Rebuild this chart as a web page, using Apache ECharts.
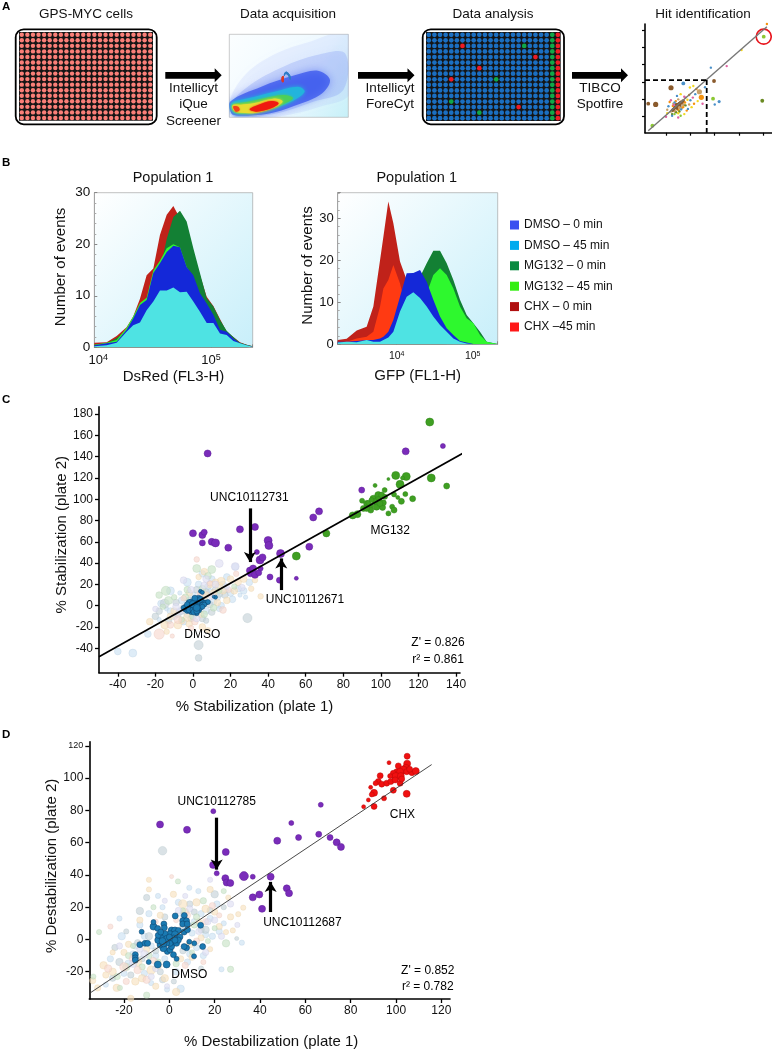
<!DOCTYPE html>
<html><head><meta charset="utf-8">
<script src="https://cdn.jsdelivr.net/npm/echarts@6/dist/echarts.min.js"></script>
<style>html,body{margin:0;padding:0;background:#fff}#c{width:772px;height:1050px}</style></head>
<body><div id="c"></div>
<script>
const plateRows=['A','B','C','D','E','F','G','H','I','J','K','L','M','N','O','P'];
const plateCols=['1','2','3','4','5','6','7','8','9','10','11','12','13','14','15','16','17','18','19','20','21','22','23','24'];
const hitsRed=[['7','C'],['20','E'],['10','G'],['5','I'],['17','N']];
const hitsGreen=[['18','C'],['13','I'],['5','M'],['10','O']];
// density contours of the acquisition plot
const densHaze=[[690,300],[740,220],[830,160],[930,125],[1045,100],[1050,280],[960,320],[830,350],[700,352]];
const densHaze2=[[692,315],[750,255],[850,200],[950,165],[1035,160],[1030,270],[940,305],[820,342],[705,350]];
const densBlue=[[692,304],[784,260],[884,226],[954,212],[990,240],[964,282],[884,317],[804,341],[714,347],[694,340]];
const densCyan=[[694,310],[744,295],[824,275],[894,260],[914,275],[874,305],[804,330],[724,342],[698,336]];
const densGreen=[[697,315],[744,305],[814,290],[854,285],[879,295],[844,315],[794,332],[724,340],[702,334]];
const densYellow=[[698,316],[722,314],[760,310],[820,296],[848,304],[826,322],[770,338],[722,338],[702,332]];
const densRed=[[749,328],[774,315],[814,303],[836,310],[814,325],[769,335]];
const densSpot=[[700,320],[714,320],[719,330],[708,335]];
const densArcBlue=[[852,222],[860,215],[870,225],[873,238],[869,238],[865,228],[858,222],[853,228]];
const densArcRed=[[845,232],[851,228],[851,246],[846,246]];
// hit identification mini plot
const miniTicksX=[1,2,3,4,5], miniTicksY=[1,2,3,4,5,6];
const miniDiag=[[0.27,0.19],[5.14,6.19]];
const miniDashH=[[0.137,3.115],[2.67,3.115]];
const miniDashV=[[2.67,3.115],[2.67,0.075]];
const miniBrown=[[1.205,2.67,3],[0.575,1.71,3],[0.27,1.75,2],[2.97,3.06,2],[1.5,1.7,2],[1.4,1.5,1.5],[1.6,1.85,1.5],[1.3,1.4,2],[1.7,1.9,2],[1.45,1.6,2],[1.55,1.75,2],[1.35,1.55,1.5],[1.42,1.72,1.5],[1.58,1.62,1.5],[1.48,1.45,1.5],[1.65,1.78,1.5],[1.25,1.35,1.5]];
const miniTan=[[2.37,2.44,3],[1.3,1.75,1],[1.8,2.1,1],[1.2,1.3,1],[1.65,1.5,1],[1.95,1.7,1],[1.05,1.4,1],[1.5,2.0,1],[1.38,1.3,1.5],[1.72,1.68,1.5],[1.55,1.52,1.5]];
const miniOrange=[[2.45,2.12,3],[1.4,1.9,1],[1.7,1.55,1],[1.95,2.25,1],[2.15,1.75,1],[1.15,1.85,1],[1.85,1.35,1],[5.14,6.35,1],[2.25,2.6,1],[1.52,1.38,1],[1.78,1.82,1],[1.28,1.62,1]];
const miniLime=[[5.01,5.62,2],[0.44,0.48,2],[2.93,2.04,2],[1.35,1.15,1],[1.6,1.05,1]];
const miniOlive=[[4.95,1.92,2],[1.25,1.15,1],[1.55,1.3,1],[1.8,1.65,1],[1.42,1.25,1]];
const miniBlue=[[1.71,2.92,2],[3.18,1.87,1.5],[2.84,3.83,1],[1.1,1.6,1],[1.45,2.2,1],[1.9,1.45,1],[2.0,1.95,1],[2.6,2.7,1],[3.0,1.7,1],[2.2,2.3,1],[1.25,1.05,1],[1.62,1.42,1],[1.35,1.82,1]];
const miniYellow=[[1.98,2.68,1],[2.12,2.77,1],[4.1,4.85,1],[1.6,2.3,1],[2.05,1.55,1],[1.75,1.15,1],[2.3,1.9,1],[1.05,1.2,1],[1.5,1.2,1],[1.88,1.98,1]];
const miniPink=[[3.49,3.92,1],[1.2,1.95,1],[1.75,2.15,1],[2.1,2.1,1],[1.5,0.95,1],[2.5,1.75,1],[1.0,1.0,1],[1.32,1.68,1]];
const miniRing=[[5.01,5.62]];
// flow histograms: DsRed
const dsRedFL=[9217,11860,14550,17830,20400,23440,26850,30780,35240,40460,46340,53090,60810,69690,79800,91600,105000,120200,137700,157800,180700,207300,234400];
const dsChx0=[0.9,1.0,2.2,3.9,6,9.4,14,15.3,21.8,25.7,27.4,25,22,18.5,14,9.8,8,5.5,3,2,1,0.5,0.2];
const dsMg0=[0.5,0.8,1.8,3.4,5,7.6,9.6,11,15,21,25.3,26.5,24.4,19.2,14.4,9.5,7.9,5.3,3.2,2,0.9,0.5,0.2];
const dsMg45=[0.5,0.9,1.4,3.8,6,8.6,9.6,14.9,16.8,19.2,20,19.4,15.6,13.5,10,8,6,3,2.5,1.5,0.7,0.3,0.1];
const dsChx45=[0.3,0.6,1,3,5,7.8,8.8,14,16,18,19,18.8,15,13,10,8,6,3,2.5,1.4,0.6,0.3,0.1];
const dsDmso0=[0.4,0.8,1.1,3.4,5.6,8.2,9.2,14.4,16.3,18.5,19.7,19.4,15.6,14,10.5,8.5,6.3,3.4,3,1.7,0.8,0.4,0.1];
const dsDmso45=[0.2,0.4,0.9,3,4.3,4.8,7.2,8.9,11,11,11.6,10.7,10.8,8.9,6.9,4.7,4.7,2.7,2.4,1.2,0.8,0.4,0.1];
// flow histograms: GFP
const gfpFL=[1675,2198,2978,4027,4932,6039,6683,7762,9040,11060,13540,16560,20270,24830,30340,37150,45500,55700,68080,83370,102100,124800,152800,213300];
const gfChx0=[1,1.3,3.3,4.2,9,20,25.6,34,28.8,19.7,15.3,7,2,1,0.5,0.3,0.1,0,0,0,0,0,0,0];
const gfChx45=[0.4,0.6,1.4,1.8,3,9,13.3,15.3,18.9,14.5,8.2,2.6,1,0.5,0.2,0.1,0,0,0,0,0,0,0,0];
const gfMg0=[0.1,0.2,0.3,0.4,0.5,0.8,1,1.5,2,4,7,11,16,19.3,22.3,22.3,19.3,15.3,10.6,7,5,3,0.6,0.1];
const gfMg45=[0.1,0.1,0.2,0.3,0.4,0.6,0.8,1,1.5,3,5,8,11,12.1,16.5,18.1,16.5,13.3,9,6.2,5,2.2,0.6,0.1];
const gfDmso0=[0.6,0.6,0.8,1,1,1.4,1.8,3,5.8,11.3,16.9,17,17.7,14.9,10.6,6.6,3.8,2.2,0.8,0.4,0.1,0,0,0];
const gfDmso45=[0.4,0.6,0.5,1,0.6,0.6,1,1.6,3,7.8,11.3,12.4,11,9,6.6,4.6,3,1.4,0.6,0.2,0,0,0,0];
const legendNames=['DMSO – 0 min','DMSO – 45 min','MG132 – 0 min','MG132 – 45 min','CHX – 0 min','CHX –45 min'];
// panel C
const cTicksX=[-40,-20,0,20,40,60,80,100,120,140];
const cTicksY=[-40,-20,0,20,40,60,80,100,120,140,160,180];
const cFit=[[-50,-47.9],[144.2,143.7]];
const cPurple=[[7.8,143,2.5],[0,68,2.5],[5,66.4,2.5],[6,69,2],[5,59,2],[10,60,2.5],[12,59,3],[18.8,54.5,2.5],[25,71.7,2.5],[33,74,2.5],[34,50.4,1.5],[40,61.3,3],[40.4,56.6,3],[35.7,43,3],[37,45.4,2.5],[30.3,33,2.5],[32,35,2.5],[30.6,30,2],[33,29,2.5],[35,31,2],[36,35,1.5],[41,27,2],[46,24,2],[46.6,49,3],[55,25.7,1],[61.9,55.4,2.5],[64,82.9,2.5],[67.1,88.6,2.5],[89.8,108.6,2],[113.2,145,2.5],[133,150,1.5]];
const cGreen=[[126,172.5,3],[126.8,120,3],[135,112.4,2],[107.9,122.4,3],[110.2,114,3],[113.5,121.4,3],[111.5,120,1],[104,119,0.5],[96.9,113,1],[102,108.6,1.5],[107,104.5,1.5],[109,101.7,1],[113,104.8,1.5],[110.9,98,2],[116.9,100.5,2],[90,98.6,1.5],[92.4,96.1,2],[94.2,93.6,2],[90.7,91.4,2],[96,100.5,2.5],[98.6,103.9,2.5],[100.4,103.9,2],[102.2,102.3,1.5],[97.7,93,2.5],[100.9,92.3,2],[101.3,96.7,2],[98.6,99.2,2.5],[96.9,97.7,2],[94.6,89.8,2],[92.4,91.4,2],[104,86.7,1.5],[106,93,1.5],[107,89.8,2],[87.5,86,2.5],[85,84.8,2.5],[71,67.9,2.5],[55,46.6,3],[93.3,96.7,1.5],[99.5,96,2],[95,99.2,1.5]];
const cDmso=[[-4,-3,2],[-3,-1,2],[-2,-3,2],[-1,-1,2],[-2,1,2],[0,0,2.5],[1,1,2],[0,-2,2],[1,-3,2],[2,0,2.5],[3,2,2],[2,3,2],[4,1,2],[3,-1,2],[1,3,2],[0,3,2],[-1,2,2],[4,4,2],[5,3,2],[3,5,2],[2,5,1.5],[6,3,1.5],[5,1,1.5],[7,3,1.5],[8,3.5,1.5],[-3,-5,1.5],[-1,-6,1.5],[1,-5,2],[2,-7,1.5],[3,-4,2],[4,-2,1.5],[-4,-1,1.5],[-2,-4,2],[0,-4,2],[1,-1,2],[2,2,2],[3,4,1.5],[4,13.5,1],[5,12.5,1],[12,8,1],[11,8.5,0.5],[-5,-2,1.5],[6,1,1.5],[1,5,1.5],[-1,4,1.5],[0.5,-6,2],[2,-5,2],[3,7,2],[1,7,2],[-2,3,2],[4,6,2],[-3,1,2],[5,-1,1.5],[0,1.5,2.5],[2,-2,2.5]];
const cPaleBlue=[[-40,-43,2],[-32,-44.5,2.5],[-24,-26.6,2],[-12,14,2.5],[-17,2,2],[22.5,36.6,2],[-3,22,2.5],[5,30,2],[10,25,2],[16,20,2],[27,14,2],[-10,-10,2],[-5,-15,2],[13,8,2],[20,12,2],[25,10,1],[0,10,2],[7,-5,2],[-14,-3,1],[-3,-8,2],[15,0,2],[30,22,2],[8,18,2],[-7,12,1],[3,20,2],[18,27,2],[-18,-13,1],[14,-3,1.5],[28,8,1],[-6,5,2],[11,4,2],[21,6,2],[24,16,2],[-12,-5,2],[9,13,2],[17,15,2]];
const cPaleGrey=[[3,-37,3],[3,-49,2],[29,-11.6,3],[-20,-10,2],[-15,2,3],[-18,-5,2],[-8,-8,2],[5,-12,2],[10,-6,2],[2,15,2],[12,15,2],[-2,5,2],[6,6,2],[17,10,2],[9,1,2],[-5,-2,2],[-13,-14,2],[7,-14,1.5],[-9,3,2],[-1,-12,2],[4,9,2],[7,13,2],[14,11,2],[-6,-5,2]];
const cPalePeach=[[-14,-24.4,1.5],[36,8.8,1.5],[-23,-15,2],[-15,-18,2.5],[-8,-18,2.5],[-2,-17,2],[5,-20,2],[8,-23,1.5],[14,18,2.5],[15,23,2.5],[20,25,2],[24,22,2],[7,10,2],[11,12,2],[3,27,1.5],[6,32,2],[-2,12,2],[13,3,2],[18,5,2],[27,25,2],[31,16,1.5],[-3,-11,2.5],[-10,-5,2],[4,-8,2],[33,24,1.5],[9,20,2],[16,14,2],[22,14,2],[-6,-14,2],[12,22,2],[-12,-10,2]];
const cPaleGreen=[[2,35,2.5],[-14.4,14,3],[-18,10,2],[-13,5,2.5],[-10,8,1.5],[-3,15,2],[10,34,2.5],[-16,-1,1.5],[8,28,2],[6,-8,2],[11,-2,2],[-6,-13,1.5],[14,14,1.5],[22,18,1.5],[0,-10,2],[-4,8,2],[5,16,2]];
const cPalePink=[[2,43.5,1.5],[-18,-26.6,3.5],[-11,-28.5,1],[16,-4,2],[-12,-18,2],[4,12,2],[-5,7,1.5],[23,30,1.5],[-1,-21,1.5],[9,21,1.5],[19,15,1.5],[-8,-13,2.5],[1,-15,2]];
const cPaleLav=[[14,39.7,2.5],[22.5,36.8,2.5],[-5,24,2],[7,25,2],[-1,15,2],[12,20,2],[-7,-5,2],[2,-12,2],[18,18,1.5],[26,17,2],[-20,-3,1.5],[-9,-1,2],[10,9,2],[6,19,2]];
const cArrow1=[[30.3,91.4],[30.3,41]];
const cArrow2=[[47,14.7],[47,44.4]];
const cNotes=[['UNC10112731',30,101],['DMSO',5,-27.5],['MG132',105,70],['UNC10112671',59.6,5.3],["Z' = 0.826",130.4,-34.7],['r² = 0.861',130.4,-51]];
// panel D
const dTicksX=[-20,0,20,40,60,80,100,120];
const dTicksY=[-20,0,20,40,60,80,100,120];
const dFit=[[-35.3,-33.5],[115.7,108.4]];
const dPurple=[[-4.1,71.3,2.5],[7.8,68,2.5],[19.4,79.5,1.5],[24.9,54.2,2.5],[19.3,46.2,2.5],[20.9,41,1.5],[24.7,38,2.5],[25.3,35.3,2.5],[26.9,35,2.5],[32.9,39.3,3.5],[36.8,38.9,1.5],[44.7,38.9,2.5],[36.8,26.1,2.5],[39.7,27.9,2.5],[40.9,19,2.5],[51.8,31.7,2.5],[52.8,28.7,2.5],[47.6,61.2,2.5],[53.8,72.2,1.5],[57,63.2,2],[66.8,83.5,1.5],[65.9,65.2,2],[70.9,63.2,2],[73.8,60.2,2.5],[75.7,57.4,2.5]];
const dRed=[[104.9,113.6,2],[96.9,109.6,1],[104.9,109,2.5],[101,107.6,2],[104.3,106.4,2.5],[103.2,105,3],[100.3,104,2],[101.8,104,2.5],[98.8,103,2],[99.9,101,3],[102.1,101.3,2.5],[104.7,104,2],[107,103.4,2],[108.7,104.4,2.5],[97.4,101.3,1.5],[93,101.5,2],[92.2,97.9,2],[93.7,96.3,2],[95.9,96.9,2],[97.7,97.9,2],[99.6,98.9,2],[101.8,96.9,2],[88.8,94.3,1],[91,96.9,1.5],[90.3,90.9,2.5],[89.3,89.9,1.5],[98.8,92.5,2],[104.7,90.3,2.5],[94.7,87.5,1.5],[87.8,86.5,1],[85.7,82.3,1],[90.3,82.5,2],[106,105.5,2],[102.5,99.5,2]];
const dDmso=[[-7,8,2.5],[-7,10.8,1.5],[-2.4,9.6,2],[-2.2,7.2,2],[-5.1,6.8,2],[2.6,14.6,2],[6.6,14.9,2],[5.9,11.6,2],[7.6,11.6,2],[5.9,9.6,2],[7.9,9.6,2],[13.8,8.8,2],[1,5.6,2.5],[2.5,5.6,2.5],[4,5.6,2],[0.3,3.6,2],[2.5,3.2,2.5],[4.7,1.6,2],[6.5,4.6,2],[8,6,2],[-12.2,4.8,1.5],[-13,-3.2,2],[-10.7,-2.4,2],[-9.6,-2.4,2],[-15,-9.4,2],[-15,-11.4,2],[-15,-12.8,2],[-9.1,-14,1.5],[-5.1,-15.5,2.5],[-1.2,-15.5,2.5],[3.2,-12,1.5],[1.8,-9.4,2],[7.6,-5.2,2],[8.8,-1.4,1.5],[11,-2.4,1.5],[14.7,-4.4,2],[10.9,-10.4,1.5],[6.5,-4.4,2],[-0.9,-7.4,2],[0.3,-6.4,2],[-2.6,-5.4,2.5],[-4.1,-3.4,2],[-4.9,-0.4,2.5],[-3.4,1.6,2],[-1.9,3.6,2],[1.2,-2.4,2.5],[1,-4.4,2],[3.2,-2.4,2],[4,-0.4,2],[1.8,0.6,2.5],[0.3,-2.4,2],[-1.2,-2.4,2],[-2.6,-2.4,2.5],[-4.9,2.6,2],[-3.8,4.6,2],[-1,0.5,2.5],[2.5,-0.5,2],[-3,-1,2.5],[0,1.5,2]];
const dPaleBlue=[[-22,13,1.5],[12.8,30,1.5],[8.8,32,1.5],[-5,27,1.5],[23,-18.5,1.5],[32,-2,1.5],[-1,-31,1.5],[5,-30.5,2.5],[-21,2,2.5],[-15,-4,2],[-18,-15,2.5],[-11,-21,2],[-6,-10,2],[3,-20,2],[8,-14,2],[15,-10,2],[19,2,2],[24,10,1.5],[10,4,2],[14,16,2],[-9,16,2],[-3,20,1.5],[4,23,2],[-26,-12,2],[-28,-28,1.5],[21,22,2],[-13,9,2],[18,13,2],[12,-5,2],[-8,-27,1.5],[-16,-9,2],[-8,-4,2],[-11,2,2],[6,15,2],[16,3,2],[11,11,2],[-20,-21,2],[-2,-12,2],[22,5,2],[9,-9,2]];
const dPaleGrey=[[-3,55,3],[-13,17.7,2.5],[29.7,0.6,1],[-10,26,2],[-9,2,2.5],[-2,14,2],[6,8,2],[16,6,2.5],[-24,-5,2],[-17,-22,2],[6,-7,2],[-4,-20,2],[20,28,2.5],[11,17,2],[-12,-12,2],[24,20,1.5],[2,-26,1.5],[14,-18,1.5],[-19,5,1.5],[9,22,2],[-22,-14,2.5],[-6,-7,2],[14,6,2],[-14,-2,2],[18,18,2],[-25,-24,2],[-3,-25,2]];
const dPalePeach=[[-9,37,1.5],[18,31,2],[-9,31,1.5],[1.8,28,2],[6,22,3],[25,4.6,1.5],[28,5.6,1.5],[32.6,19.7,1.5],[30.4,15.7,1.5],[-33.8,-25.5,2],[-31.6,-30,2],[-23.2,-30,2.5],[-17,-36.5,2],[3,-32.5,2.5],[-29,-16,2.5],[-25,-20,2.5],[-20,-8,2],[-15,-26,2.5],[-8,-19,3],[-2,-24,2.5],[-13,12,2],[-4,15,2],[12,23,2.5],[16,19,2.5],[20,17,2],[22,8,2],[13,11,2],[9,-3,2.5],[5,-12,2],[18,-6,1.5],[27,14,2],[-25,-8,1.5],[-10,-6,2],[26,26,1.5],[-18,-3,2],[-12,-24,2.5],[-6,-29,2],[7,17,2.5],[14,1,2],[10,-11,2],[-28,-22,2],[-14,-14,3],[-5,-16,2.5]];
const dPaleGreen=[[3.8,36,1.5],[27,-18.5,2],[-31,4.6,1.5],[25,-2.4,2.5],[-33.5,-23,1.5],[-21.8,-30,1.5],[-10,-34.5,2],[-18,-10,2],[-12,-17,2],[-5,-14,2],[11,9,2],[15,24,2],[20,7,1.5],[6,18,1.5],[-7,20,1.5],[-23,-23,2],[10,-8,1.5],[24,30,1.5],[-16,-4,1.5],[17,-1,1.5],[-19,-17,2.5],[-9,-10,2],[3,-15,2],[12,14,2]];
const dPalePink=[[1,39,1],[-26,8,1.5],[-19,-26,2],[-14,-19,2.5],[-7,-13,2],[15,-14,1.5],[19,21,2],[8,15,2],[-6,11,1.5],[-27,-18,2.5],[12,-1,2],[3,12,1.5],[22,15,1.5],[-20,-17,3],[-16,-12,2.5],[16,11,2],[7,-16,2],[-10,-25,2.5]];
const dPaleLav=[[18,37,1.5],[-11,-9,2.5],[-22,-4,2],[-8,-23,2],[4,18,2],[17,11,2],[23,2,2],[7,27,1.5],[-2,24,1.5],[13,5,2],[-16,-15,2.5],[27,22,2],[30,9,1.5],[-1,-29,1.5],[16,-8,2],[-13,-6,2],[9,19,2],[-6,-18,2],[20,12,2]];
const dArrow1=[[20.9,75.5],[20.9,43.3]];
const dArrow2=[[44.7,17],[44.7,35.7]];
const dNotes=[['UNC10112785',20.9,85.5],['DMSO',8.8,-21.7],['CHX',102.8,77.2],['UNC10112687',58.7,10.2],["Z' = 0.852",114,-19.3],['r² = 0.782',114,-29.5]];

const FONT='"Liberation Sans", Arial, Helvetica, sans-serif', INK='#111';
const grids=[
 {left:19,top:32,width:134,height:88.7,show:true,backgroundColor:'#151515',borderWidth:0},
 {left:229.3,top:34.3,width:119,height:83,show:true,borderColor:'#a8a8a8',borderWidth:0.6,
  backgroundColor:{type:'linear',x:0,y:0,x2:1,y2:1,colorStops:[{offset:0,color:'#fbfeff'},{offset:0.6,color:'#eef9ff'},{offset:1,color:'#c6f0f8'}]}},
 {left:426,top:32,width:134.7,height:89,show:true,backgroundColor:'#151515',borderWidth:0},
 {left:645,top:24,width:127,height:108.7},
 {left:94.3,top:192.7,width:158.4,height:154.6,show:true,borderColor:'#999',borderWidth:0.6,
  backgroundColor:{type:'linear',x:0,y:0,x2:1,y2:1,colorStops:[{offset:0,color:'#ffffff'},{offset:1,color:'#c8effa'}]}},
 {left:337.7,top:192.7,width:160,height:151.6,show:true,borderColor:'#999',borderWidth:0.6,
  backgroundColor:{type:'linear',x:0,y:0,x2:1,y2:1,colorStops:[{offset:0,color:'#ffffff'},{offset:1,color:'#c8effa'}]}},
 {left:99,top:406.7,width:361,height:266},
 {left:89.3,top:741.7,width:360.7,height:265.6}
];
const hiddenCat=(g,d,inv)=>({type:'category',gridIndex:g,data:d,show:false,inverse:!!inv});
const hiddenVal=(g,mn,mx,inv)=>({type:'value',gridIndex:g,min:mn,max:mx,show:false,inverse:!!inv});
const blackLine={show:true,onZero:false,lineStyle:{color:'#000',width:1.6}};
const scatAxis=(g,mn,mx,ticks,name,gap,fs,pad,extra)=>Object.assign({type:'value',gridIndex:g,min:mn,max:mx,splitLine:{show:false},axisLine:blackLine,
  axisTick:{show:true,length:4,customValues:ticks,lineStyle:{color:'#000',width:1.3}},
  axisLabel:{customValues:ticks,color:INK,fontFamily:FONT,fontSize:12,margin:6},
  name:name,nameLocation:'middle',nameGap:gap,nameTextStyle:{color:INK,fontFamily:FONT,fontSize:fs,padding:pad}},extra||{});
const decade=v=>{const l=Math.log10(v);return Math.abs(l-Math.round(l))<1e-6?'{b|10}{e|'+Math.round(l)+'}':'';};
const xAxes=[
 hiddenCat(0,plateCols),hiddenVal(1,688,1045),hiddenCat(2,plateCols),
 {type:'value',gridIndex:3,min:0.137,max:5.35,splitLine:{show:false},axisLine:blackLine,axisLabel:{show:false},
  axisTick:{customValues:miniTicksX,length:3,lineStyle:{color:'#000',width:1.2}}},
 {type:'log',gridIndex:4,min:9217,max:234400,logBase:10,splitLine:{show:false},axisLine:{onZero:false,lineStyle:{color:'#888',width:0.6}},
  axisTick:{length:3,inside:true,lineStyle:{color:'#888'}},minorTick:{show:true,length:2,lineStyle:{color:'#aaa'}},minorSplitLine:{show:false},
  axisLabel:{showMinLabel:false,showMaxLabel:false,margin:6,color:INK,fontFamily:FONT,formatter:decade,
   rich:{b:{fontSize:13,fontFamily:FONT,color:INK},e:{fontSize:9,fontFamily:FONT,color:INK,padding:[0,0,6,0]}}},
  name:'DsRed (FL3-H)',nameLocation:'middle',nameGap:22,nameTextStyle:{color:INK,fontFamily:FONT,fontSize:15}},
 {type:'log',gridIndex:5,min:1675,max:213300,logBase:10,splitLine:{show:false},axisLine:{onZero:false,lineStyle:{color:'#888',width:0.6}},
  axisTick:{length:3,inside:true,lineStyle:{color:'#888'}},minorTick:{show:true,length:2,lineStyle:{color:'#aaa'}},minorSplitLine:{show:false},
  axisLabel:{showMinLabel:false,showMaxLabel:false,margin:6,color:INK,fontFamily:FONT,formatter:decade,
   rich:{b:{fontSize:10.5,fontFamily:FONT,color:INK},e:{fontSize:7,fontFamily:FONT,color:INK,padding:[0,0,5,0]}}},
  name:'GFP (FL1-H)',nameLocation:'middle',nameGap:24,nameTextStyle:{color:INK,fontFamily:FONT,fontSize:15}},
 scatAxis(6,-50,142.1,cTicksX,'% Stabilization (plate 1)',27,15,[0,50,0,0]),
 scatAxis(7,-35.3,123.8,dTicksX,'% Destabilization (plate 1)',35,15,[0,0,0,3])
];
const histY=(g,mx,fs,gap)=>({type:'value',gridIndex:g,min:0,max:mx,interval:10,splitLine:{show:false},axisLine:{show:true,onZero:false,lineStyle:{color:'#888',width:0.6}},
  axisTick:{show:true,length:3,inside:true,lineStyle:{color:'#888'}},minorTick:{show:true,splitNumber:5,length:2,lineStyle:{color:'#aaa'}},
  axisLabel:{color:INK,fontFamily:FONT,fontSize:fs,margin:4,showMaxLabel:mx===30},
  name:'Number of events',nameLocation:'middle',nameGap:gap,nameTextStyle:{color:INK,fontFamily:FONT,fontSize:15,padding:[0,0,0,6]}});
const yAxes=[
 hiddenCat(0,plateRows,true),hiddenVal(1,103,352,true),hiddenCat(2,plateRows,true),
 {type:'value',gridIndex:3,min:0.075,max:6.35,splitLine:{show:false},axisLine:blackLine,axisLabel:{show:false},
  axisTick:{customValues:miniTicksY,length:3,lineStyle:{color:'#000',width:1.2}}},
 histY(4,30,13.5,26),histY(5,36.1,13,16),
 scatAxis(6,-62.9,186.9,cTicksY,'% Stabilization (plate 2)',29.3,15,[0,0,0,10]),
 scatAxis(7,-36.9,122.6,dTicksY,'% Destabilization (plate 2)',28.3,15,[0,0,0,9],{axisLabel:{customValues:dTicksY,color:INK,fontFamily:FONT,fontSize:12,margin:6,
   formatter:v=>v===120?'{s|120}':String(v),rich:{s:{fontSize:9,fontFamily:FONT,color:INK}}}})
];
const series=[];
// well plates
const plate=(g,colorOf,size)=>series.push({type:'scatter',xAxisIndex:g,yAxisIndex:g,symbolSize:size,silent:true,
  data:plateRows.flatMap(r=>plateCols.map(c=>({value:[c,r],itemStyle:{color:colorOf(c,r),opacity:1}})))});
const isIn=(l,c,r)=>l.some(h=>h[0]===c&&h[1]===r);
plate(0,()=>'#fa7f78',4.4);
plate(2,(c,r)=>c==='24'||isIn(hitsRed,c,r)?'#ee1c25':c==='23'||isIn(hitsGreen,c,r)?'#10a848':'#1b6fc2',4.7);
// density map
const band=(pts,color,blur)=>series.push({type:'custom',xAxisIndex:1,yAxisIndex:1,clip:true,silent:true,data:[0],
  renderItem:(p,api)=>({type:'polygon',shape:{points:pts.map(q=>api.coord(q)),smooth:0.35},style:{fill:color,shadowBlur:blur,shadowColor:color}})});
band(densHaze,'rgba(150,170,250,0.14)',12);
band(densHaze2,'rgba(110,135,245,0.25)',10);
band(densBlue,'rgba(40,70,235,0.65)',8);
band(densCyan,'#22b4dc',4);
band(densGreen,'#4ccf5a',3);
band(densYellow,'#e8dc30',3);
band(densRed,'#f01a10',2);
band(densSpot,'#f0401a',1.5);
band(densArcBlue,'#2c7cc8',0.5);
band(densArcRed,'#d83828',0.5);
// mini scatter
const mini=(d,c)=>series.push({type:'scatter',xAxisIndex:3,yAxisIndex:3,data:d,silent:true,symbolSize:v=>1+v[2]*1.4,itemStyle:{color:c,opacity:1}});
series.push({type:'line',xAxisIndex:3,yAxisIndex:3,data:miniDiag,showSymbol:false,silent:true,lineStyle:{color:'#777',width:1.4}});
mini(miniBrown,'#8a5a2c');mini(miniTan,'#c8a068');mini(miniOrange,'#f5920f');mini(miniLime,'#8cc832');
mini(miniOlive,'#6a8a22');mini(miniBlue,'#4a90c8');mini(miniYellow,'#f4d820');mini(miniPink,'#e060a0');
[miniDashH,miniDashV].forEach(d=>series.push({type:'line',xAxisIndex:3,yAxisIndex:3,data:d,showSymbol:false,silent:true,lineStyle:{color:'#000',width:1.8,type:[5,3]}}));
series.push({type:'scatter',xAxisIndex:3,yAxisIndex:3,data:miniRing,symbolSize:15,silent:true,itemStyle:{color:'transparent',borderColor:'#e8141c',borderWidth:1.6,opacity:1}});
// histograms
const hist=(g,fl,v,name,c)=>series.push({type:'line',name:name,xAxisIndex:g,yAxisIndex:g,data:fl.map((x,i)=>[x,v[i]]),showSymbol:false,silent:true,
  lineStyle:{width:0},itemStyle:{color:c},areaStyle:{color:c,opacity:1}});
const histCols=['#1428d8','#4ee3e3','#138034','#2ef82e','#c0221a','#ff3a12'];
[[4,dsRedFL,[dsDmso0,dsDmso45,dsMg0,dsMg45,dsChx0,dsChx45]],[5,gfpFL,[gfDmso0,gfDmso45,gfMg0,gfMg45,gfChx0,gfChx45]]].forEach(([g,fl,v])=>{
  [4,2,3,5,0,1].forEach(i=>hist(g,fl,v[i],legendNames[i],histCols[i]));
});
// scatters
const pts=(g,d,c,bc,op,bw,scale)=>series.push({type:'scatter',xAxisIndex:g,yAxisIndex:g,data:d,silent:true,symbolSize:v=>2+v[2]*(scale||2),
  itemStyle:{color:c,borderColor:bc,borderWidth:bw,opacity:op}});
const fit=(g,d,w,c)=>series.push({type:'line',xAxisIndex:g,yAxisIndex:g,data:d,showSymbol:false,silent:true,clip:false,lineStyle:{color:c,width:w}});
const arrow=(g,d)=>series.push({type:'line',xAxisIndex:g,yAxisIndex:g,data:[],silent:true,
  markLine:{silent:true,animation:false,symbol:['none','arrow'],symbolSize:[9,10],label:{show:false},lineStyle:{color:'#000',width:3.2,type:'solid'},
   data:[[{coord:d[0]},{coord:d[1]}]]}});
const notes=(g,n)=>series.push({type:'scatter',xAxisIndex:g,yAxisIndex:g,symbolSize:1,silent:true,itemStyle:{color:'transparent',opacity:1},
  data:n.map(a=>({name:a[0],value:[a[1],a[2]]})),label:{show:true,position:'inside',formatter:'{b}',color:'#000',opacity:1,textBorderWidth:0,fontFamily:FONT,fontSize:12}});
const paleSet=[['#cde2f2','#a9c6dc'],['#c6d3d8','#a8b8be'],['#f8e2c0','#e3c79c'],['#cae3c8','#a8c8a6'],['#f8d8d0','#e0b8ae'],['#dfdff2','#c2c2dc']];
[cPaleBlue,cPaleGrey,cPalePeach,cPaleGreen,cPalePink,cPaleLav].forEach((d,i)=>pts(6,d,paleSet[i][0],paleSet[i][1],0.65,0.4,2.4));
pts(6,cDmso,'#1a7ab2','#0c3f66',1,0.5);
fit(6,cFit,1.7,'#000');
pts(6,cPurple,'#7a2cba','#5c1c96',1,0.5);
pts(6,cGreen,'#3f9f22','#2f8418',1,0.5);
arrow(6,cArrow1);arrow(6,cArrow2);notes(6,cNotes);
[dPaleBlue,dPaleGrey,dPalePeach,dPaleGreen,dPalePink,dPaleLav].forEach((d,i)=>pts(7,d,paleSet[i][0],paleSet[i][1],0.65,0.4,2.2));
pts(7,dDmso,'#1a7ab2','#0c3f66',1,0.5);
fit(7,dFit,0.9,'#333');
pts(7,dPurple,'#7a2cba','#5c1c96',1,0.5);
pts(7,dRed,'#f01010','#b80808',1,0.5);
arrow(7,dArrow1);arrow(7,dArrow2);notes(7,dNotes);

const txt=(t,x,y,fs,extra)=>({type:'text',x:x,y:y,style:Object.assign({text:t,font:fs+'px '+FONT,fill:INK,textAlign:'center',textVerticalAlign:'middle'},extra||{})});
const bold=(t,x,y)=>({type:'text',x:x,y:y,style:{text:t,font:'bold 11.5px '+FONT,fill:'#000',textAlign:'left',textVerticalAlign:'middle'}});
const frame=(x,y,w,h)=>({type:'rect',shape:{x:x,y:y,width:w,height:h,r:8},style:{fill:'#fff',stroke:'#000',lineWidth:1.8},z:-1});
const flow=(x0,x1,y)=>({type:'polygon',shape:{points:[[x0,y-3.4],[x1-7,y-3.4],[x1-7,y-7],[x1,y],[x1-7,y+7],[x1-7,y+3.4],[x0,y+3.4]]},style:{fill:'#000'}});
const graphic=[
 bold('A',2,7),bold('B',2,163),bold('C',2,400),bold('D',2,735),
 txt('GPS-MYC cells',86,14,13.5),txt('Data acquisition',288,14,13.5),txt('Data analysis',493,14,13.5),txt('Hit identification',703,14,13.5),
 frame(15.7,29.3,141,95),frame(422.7,29.3,141.3,95),
 flow(165.3,221.7,75.3),flow(358,414.5,75.3),flow(572,628,75.3),
 txt('Intellicyt',193.5,88,13.5),txt('iQue',193.5,104,13.5),txt('Screener',193.5,121,13.5),
 txt('Intellicyt',390,88,13.5),txt('ForeCyt',390,104,13.5),
 txt('TIBCO',600,88,13.5),txt('Spotfire',600,104,13.5),
 txt('Population 1',173,178,14.5),txt('Population 1',416.7,178,14.5)
];
const chart=echarts.init(document.getElementById('c'),null,{renderer:'canvas'});
chart.setOption({animation:false,backgroundColor:'#fff',textStyle:{fontFamily:FONT},grid:grids,xAxis:xAxes,yAxis:yAxes,series:series,graphic:graphic,
 legend:{show:true,orient:'vertical',left:505,top:214,itemWidth:9,itemHeight:9,itemGap:8.4,selectedMode:false,icon:'rect',
  textStyle:{color:INK,fontFamily:FONT,fontSize:12},
  data:legendNames.map((n,i)=>({name:n,itemStyle:{color:['#3a50f0','#00aaee','#0a8a40','#33ee11','#b01010','#ff1818'][i]}}))}
});
</script></body></html>
